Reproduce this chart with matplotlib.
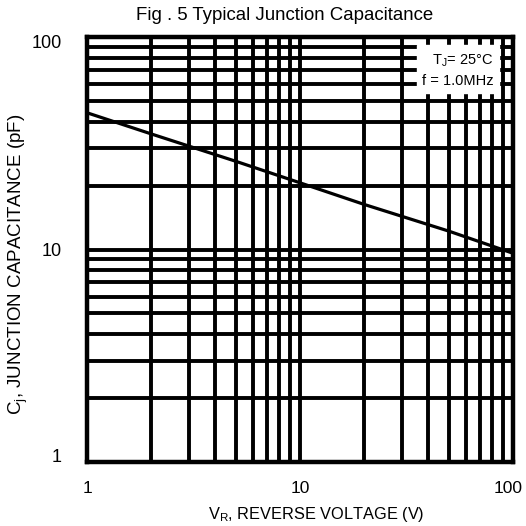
import matplotlib
matplotlib.use("Agg")
import matplotlib.pyplot as plt
import matplotlib.transforms as mtransforms
import numpy as np

plt.rcParams['font.family'] = ['Liberation Sans', 'DejaVu Sans']

voltage = [1, 2, 5, 10, 20, 50, 100]
capacitance = [44.0, 35.0, 26.0, 20.6, 16.3, 12.2, 9.6]
tick_values = [1, 10, 100]
tick_labels = ['1', '10', '100']

fig = plt.figure(figsize=(5.26, 5.26), dpi=100)
ax = fig.add_axes([87/526, 1 - 462/526, 426/526, 425/526])
ax.set_xscale('log')
ax.set_yscale('log')
ax.set_xlim(1, 100)
ax.set_ylim(1, 100)

lw = 2.8
for dec in [1, 10]:
    for m in range(1, 10):
        v = dec * m
        if 1 < v < 100:
            ax.axvline(v, color='black', lw=lw, zorder=1)
            ax.axhline(v, color='black', lw=lw, zorder=1)

ax.plot(voltage, capacitance, color='black', lw=2.3, zorder=3)

for s in ax.spines.values():
    s.set_linewidth(3.2)
    s.set_color('black')

ax.set_xticks(tick_values)
ax.set_xticklabels(tick_labels)
ax.set_yticks(tick_values)
ax.set_yticklabels(tick_labels)
ax.minorticks_off()
ax.tick_params(length=0, labelsize=12.5, pad=14)
ax.tick_params(axis='y', labelsize=13, pad=18)

def shift(lbl, dx, dy):
    off = mtransforms.ScaledTranslation(dx / 100, -dy / 100, fig.dpi_scale_trans)
    lbl.set_transform(lbl.get_transform() + off)

xl = ax.get_xticklabels()
shift(xl[2], -5, 0)
yl = ax.get_yticklabels()
shift(yl[2], 0, 5)
shift(yl[0], 0, -7)

ax.set_title('Fig . 5 Typical Junction Capacitance', fontsize=13.4, x=0.465, pad=12)
ax.set_xlabel(r'V$_\mathregular{R}$, REVERSE VOLTAGE (V)', fontsize=11.8, labelpad=8)
ax.xaxis.set_label_coords((316-87)/426, -(515-462)/425, transform=ax.transAxes)
ax.xaxis.label.set_va('center')
ax.set_ylabel(r'C$_\mathregular{j}$, JUNCTION CAPACITANCE (pF)', fontsize=13.5)
ax.yaxis.set_label_coords(-(87-18)/426, (462-264)/425, transform=ax.transAxes)
ax.yaxis.label.set_va('center')

ax.text(0.955, 0.965, 'T$_\\mathregular{J}$= 25°C\nf = 1.0MHz', transform=ax.transAxes,
        ha='right', va='top', fontsize=10.5, linespacing=1.5, zorder=5,
        bbox=dict(boxstyle='square,pad=0.35', fc='white', ec='white'))

fig.savefig('out.png', dpi=100)
